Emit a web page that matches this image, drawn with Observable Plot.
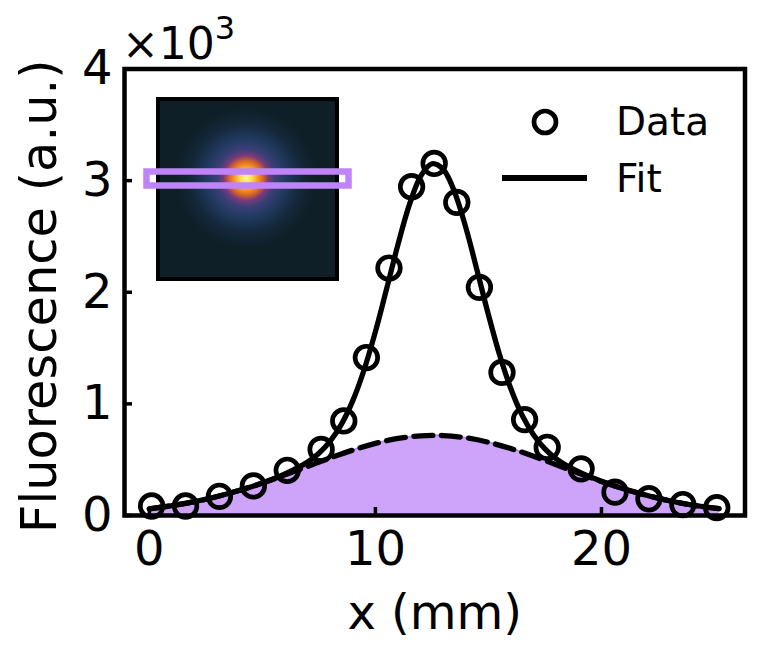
<!DOCTYPE html>
<html><head><meta charset="utf-8">
<script src="https://cdn.jsdelivr.net/npm/d3@7"></script>
<script src="https://cdn.jsdelivr.net/npm/@observablehq/plot@0.6"></script>
<style>body{margin:0;background:#fff;} #chart{position:relative;width:773px;height:646px;}</style>
</head><body><div id="chart"></div>
<script>
// measured data points
const dataX = [0.1,1.6,3.1,4.6,6.1,7.6,8.6,9.6,10.6,11.6,12.6,13.6,14.6,15.6,16.6,17.6,19.1,20.6,22.1,23.6,25.1];
const dataY = [85,85,172,265,405,592,847,1415,2217,2945,3154,2805,2044,1282,859,611,418,209,150,98,70];
// fit curve
const fitX = [0,1,2,3,4,5,6,7,7.5,8,8.5,9,9.5,10,10.5,11,11.5,12,12.5,13,13.5,14,14.5,15,15.5,16,16.5,17,17.5,18,19,20,21,22,23,24,25.2];
const fitY = [60,88,124,170,226,291,372,479,558,667,819,1029,1306,1647,2034,2429,2782,3038,3151,3101,2899,2579,2194,1798,1435,1131,895,722,597,508,390,307,238,181,132,94,61];
// broad background component (dashed, filled)
const bgX = [0,1,2,3,4,5,6,7,8,9,10,11,12,13,14,15,16,17,18,19,20,21,22,23,24,25,25.2];
const bgY = [60,88,124,170,226,291,364,440,516,586,646,690,714,716,696,656,599,531,455,379,305,238,181,132,94,65,61];
const xTicks = [0,10,20];
const yTicks = [0,1000,2000,3000,4000];
const legendLabels = ["Data","Fit"];
const xLabel = "x (mm)";
const yLabel = "Fluorescence (a.u.)";
const spotStops = [[0,"#fffb96"],[0.09,"#ffd84a"],[0.17,"#f59a22"],[0.25,"#d2622a"],[0.32,"#7c3a78"],[0.41,"#3b3f78"],[0.56,"#213a60"],[0.78,"#14283a"],[1,"#0f1f28"]];

const points = dataX.map((x,i)=>({x, y:dataY[i]}));
const fit = fitX.map((x,i)=>({x, y:fitY[i]}));
const bg = bgX.map((x,i)=>({x, y:bgY[i]}));

const plot = Plot.plot({
  width:773, height:646,
  marginLeft:124, marginRight:28.5, marginTop:68.5, marginBottom:131,
  style:{fontFamily:"DejaVu Sans", fontSize:"48px", color:"black", background:"white"},
  x:{domain:[-1.1,26.35]},
  y:{domain:[0,4000]},
  marks:[
    Plot.areaY(bg, {x:"x", y:"y", fill:"#cda4fa", curve:"catmull-rom"}),
    Plot.lineY(bg, {x:"x", y:"y", stroke:"#b98af2", strokeWidth:2, curve:"catmull-rom"}),
    Plot.lineY(bg, {x:"x", y:"y", stroke:"black", strokeWidth:5.3, strokeDasharray:"19,8.5", curve:"catmull-rom"}),
    Plot.lineY(fit, {x:"x", y:"y", stroke:"black", strokeWidth:5.3, curve:"catmull-rom"}),
    Plot.dot(points, {x:"x", y:"y", r:11.3, stroke:"black", strokeWidth:4.7, fill:"none"}),
    Plot.axisX(xTicks, {tickSize:0, tickPadding:15, fontSize:48, label:null}),
    Plot.axisX(xTicks, {tickSize:8, dy:-8, strokeWidth:3.5, tickFormat:()=>"", label:null}),
    Plot.axisY(yTicks, {tickSize:0, tickPadding:12, fontSize:48, tickFormat:d=>d/1000, label:null}),
    Plot.axisY(yTicks, {tickSize:8, dx:8, strokeWidth:3.5, tickFormat:()=>"", label:null}),
    Plot.frame({stroke:"black", strokeWidth:4.5}),
    Plot.text([xLabel], {text:d=>d, frameAnchor:"bottom", dy:113, lineAnchor:"bottom", fontSize:48}),
    Plot.text([yLabel], {text:d=>d, frameAnchor:"left", dx:-69, dy:4, rotate:-90, textAnchor:"middle", lineAnchor:"bottom", fontSize:49.5})
  ]
});
document.getElementById("chart").appendChild(plot);

const svg = d3.select(plot);
// offset text
const off = svg.append("text").attr("x",122).attr("y",59).attr("text-anchor","start")
  .attr("font-family","DejaVu Sans").attr("font-size",44).attr("fill","black");
off.append("tspan").text("×10");
off.append("tspan").attr("font-size",32).attr("dy",-20).text("3");

// inset image
const defs = svg.append("defs");
const grad = defs.append("radialGradient").attr("id","spot").attr("gradientUnits","userSpaceOnUse")
  .attr("cx",246).attr("cy",178).attr("r",70);
spotStops.forEach(([o,c])=>grad.append("stop").attr("offset",o).attr("stop-color",c));
svg.append("rect").attr("x",158).attr("y",99).attr("width",179).attr("height",180)
  .attr("fill","url(#spot)").attr("stroke","black").attr("stroke-width",4);
svg.append("rect").attr("x",146.5).attr("y",171.5).attr("width",202).attr("height",14)
  .attr("fill","none").attr("stroke","#bf85f8").attr("stroke-width",6.5);

// legend
const lg = svg.append("g").attr("font-family","DejaVu Sans").attr("font-size",39).attr("text-anchor","start");
lg.append("circle").attr("cx",545).attr("cy",122).attr("r",11).attr("fill","none").attr("stroke","black").attr("stroke-width",4.7);
lg.append("text").attr("x",616).attr("y",135).text(legendLabels[0]);
lg.append("line").attr("x1",502).attr("x2",587).attr("y1",178).attr("y2",178).attr("stroke","black").attr("stroke-width",6);
lg.append("text").attr("x",616).attr("y",192).text(legendLabels[1]);
</script></body></html>
